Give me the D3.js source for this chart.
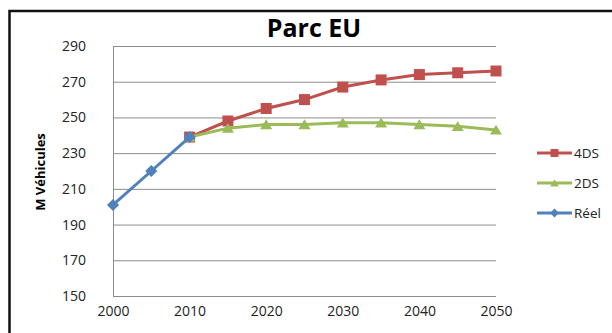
<!DOCTYPE html>
<html><head><meta charset="utf-8">
<script src="https://cdn.jsdelivr.net/npm/d3@7"></script>
<style>body{margin:0;background:#fff}svg{display:block}</style>
</head><body>
<svg id="c" width="612" height="333"></svg>
<script>
const years = [2000,2005,2010,2015,2020,2025,2030,2035,2040,2045,2050];
const xTicks = [2000,2010,2020,2030,2040,2050];
const yTicks = [150,170,190,210,230,250,270,290];
const reelYears = [2000,2005,2010];
const reel = [201,220,239];
const scenYears = [2010,2015,2020,2025,2030,2035,2040,2045,2050];
const ds4 = [239,248,255,260,267,271,274,275,276];
const ds2 = [239,244,246,246,247,247,246,245,243];
const seriesNames = ["4DS","2DS","Réel"];
const colors = ["#C0504D","#9BBB59","#4F81BD"];

const svg = d3.select("#c");
const font = "'Open Sans', sans-serif";
// frame
svg.append("rect").attr("x",9.5).attr("y",11).attr("width",640).attr("height",340)
  .attr("fill","none").attr("stroke","#111").attr("stroke-width",2.5);

const x = d3.scaleLinear().domain([2000,2050]).range([113,496]);
const y = d3.scaleLinear().domain([150,290]).range([296,46]);

// gridlines
svg.append("g").selectAll("line").data(yTicks).join("line")
  .attr("x1",113).attr("x2",496).attr("y1",d=>y(d)+0.5).attr("y2",d=>y(d)+0.5)
  .attr("stroke","#8c8c8c").attr("stroke-width",1);
svg.append("line").attr("x1",113.5).attr("x2",113.5).attr("y1",46).attr("y2",296)
  .attr("stroke","#8c8c8c");

// axes
const yAxis = d3.axisLeft(y).tickValues(yTicks).tickSize(0).tickPadding(27);
const gy = svg.append("g").attr("transform","translate(113,0)").call(yAxis);
gy.select(".domain").remove();
gy.selectAll("text").attr("font-family",font).attr("font-size",14).attr("fill","#222");
const xAxis = d3.axisBottom(x).tickValues(xTicks).tickFormat(d3.format("d")).tickSize(0).tickPadding(10);
const gx = svg.append("g").attr("transform","translate(0,296)").call(xAxis);
gx.select(".domain").remove();
gx.selectAll("text").attr("font-family",font).attr("font-size",14).attr("fill","#222");

// title
svg.append("text").attr("x",314).attr("y",37).attr("text-anchor","middle")
  .attr("font-family",font).attr("font-weight","bold").attr("font-size",25).attr("fill","#000").text("Parc EU");
// y label
svg.append("text").attr("transform","translate(45,172) rotate(-90)").attr("text-anchor","middle")
  .attr("font-family",font).attr("font-weight","bold").attr("font-size",13).attr("fill","#000").text("M Véhicules");

const line = d3.line().x(d=>x(d[0])).y(d=>y(d[1]));
// marker shapes (s = half-size)
const shapes = [
  s => `M${-s},${-s}H${s}V${s}H${-s}Z`,
  s => `M0,${-s*0.95}L${s*1.1},${s*0.85}H${-s*1.1}Z`,
  s => `M0,${-s*1.1}L${s*1.1},0L0,${s*1.1}L${-s*1.1},0Z`
];
const data = [
  scenYears.map((yr,i)=>[yr,ds4[i]]),
  scenYears.map((yr,i)=>[yr,ds2[i]]),
  reelYears.map((yr,i)=>[yr,reel[i]])
];
data.forEach((pts,k)=>{
  svg.append("path").datum(pts).attr("d",line).attr("fill","none")
    .attr("stroke",colors[k]).attr("stroke-width",3);
  svg.append("g").selectAll("path").data(pts).join("path")
    .attr("transform",d=>`translate(${x(d[0])},${y(d[1])})`)
    .attr("d",shapes[k](5.5)).attr("fill",colors[k]);
});

// legend
const legY = [153,183,213];
seriesNames.forEach((n,k)=>{
  const g = svg.append("g").attr("transform",`translate(537,${legY[k]})`);
  g.append("line").attr("x1",0).attr("x2",35).attr("stroke",colors[k]).attr("stroke-width",3);
  g.append("path").attr("transform","translate(17.5,0)").attr("d",shapes[k](4)).attr("fill",colors[k]);
  g.append("text").attr("x",37).attr("y",5).attr("font-family",font).attr("font-size",13.5).attr("fill","#222").text(n);
});
</script>
</body></html>
